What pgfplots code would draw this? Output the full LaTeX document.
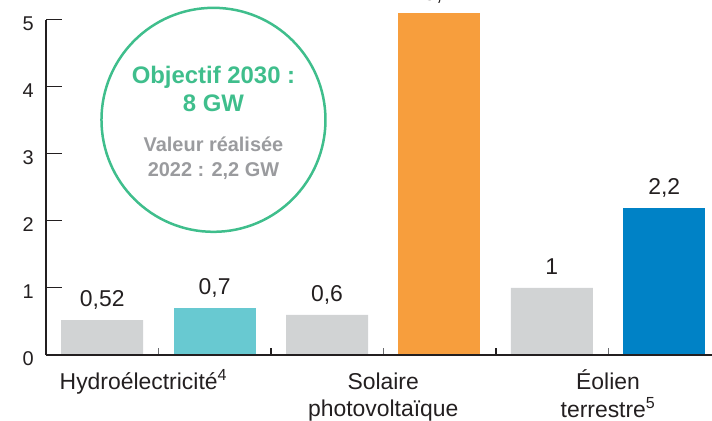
\documentclass[border=0pt]{standalone}
\usepackage{pgfplots}
\pgfplotsset{compat=1.18}
\usepackage{fontspec}
\setmainfont{Liberation Sans}
\definecolor{bargray}{HTML}{D1D3D4}
\definecolor{barteal}{HTML}{68C9D1}
\definecolor{barorange}{HTML}{F79E3D}
\definecolor{barblue}{HTML}{0082C6}
\definecolor{circgreen}{HTML}{3FBE8C}
\definecolor{circgray}{HTML}{9A9B9E}
\definecolor{txt}{HTML}{231F20}
\definecolor{tickgray}{HTML}{6D6E71}
\begin{document}
\begin{tikzpicture}
\path[use as bounding box] (0,0) rectangle (712bp,421bp);
\clip (0,0) rectangle (712bp,421bp);
\begin{axis}[
  at={(46bp,66bp)}, anchor=south west,
  x=112.4bp, y=67bp,
  xmin=-0.5, xmax=5.425, ymin=0, ymax=5,
  axis x line=bottom, axis y line=left,
  axis line style={-},
  x axis line style={draw=txt, line width=1.5bp},
  y axis line style={draw=txt, line width=1.2bp},
  clip=false,
  tick align=inside,
  major tick length=16bp,
  minor tick length=7bp,
  ytick={0,1,2,3,4,5},
  ytick style={line width=1bp, draw=txt},
  xtick={0.5,2.5,4.5},
  major x tick style={draw=none},
  minor xtick={0.5,2.5,4.5},
  minor x tick style={line width=1bp, draw=tickgray},
  xticklabels={{\begin{tabular}[t]{@{}c@{}}\hspace*{-30bp}Hydroélectricité\textsuperscript{4}\end{tabular}},{\begin{tabular}[t]{@{}c@{}}Solaire\\photovoltaïque\end{tabular}},{\begin{tabular}[t]{@{}c@{}}Éolien\\terrestre\textsuperscript{5}\end{tabular}}},
  /pgf/number format/assume math mode=true,
  yticklabel style={font=\fontsize{20}{24}\selectfont, color=txt, inner sep=0pt, xshift=-12bp, yshift=-4bp},
  xticklabel style={font=\fontsize{23}{27}\selectfont, text height=16.5bp, inner sep=0pt, yshift=-18bp, color=txt},
  nodes near coords, point meta=explicit symbolic,
  every node near coord/.append style={font=\fontsize{23}{27}\selectfont, color=txt, anchor=south, inner sep=0pt, text depth=0pt, yshift=13bp},
]
\addplot[ybar, bar width=82bp, bar shift=0pt, fill=bargray, draw=none] coordinates {(0,0.52) [{0,52}] (2,0.6) [{0,6}] (4,1) [1]};
\addplot[ybar, bar width=82bp, bar shift=0pt, fill=barteal, draw=none] coordinates {(1,0.7) [{0,7}]};
\addplot[ybar, bar width=82bp, bar shift=0pt, fill=barorange, draw=none] coordinates {(3,5.1) [{5,1}]};
\addplot[ybar, bar width=82bp, bar shift=0pt, fill=barblue, draw=none] coordinates {(5,2.2) [{2,2}]};
\draw[circgreen, line width=2.5bp] (axis cs:0.99,3.51) circle[radius=112bp];
\node[circgreen, font=\bfseries\fontsize{24}{28}\selectfont, align=center] at (axis cs:0.99,3.97) {Objectif 2030 :\\8 GW};
\node[circgray, font=\bfseries\fontsize{20}{25}\selectfont, align=center] at (axis cs:0.99,2.933) {Valeur réalisée\\2022 : 2,2 GW};
\end{axis}
\begin{axis}[
  at={(46bp,66bp)}, anchor=south west,
  x=112.4bp, y=67bp,
  xmin=-0.5, xmax=5.425, ymin=0, ymax=5,
  axis x line=bottom, axis y line=none,
  axis line style={-},
  x axis line style={draw=txt, line width=1.5bp},
  clip=false,
  tick align=inside,
  major tick length=7bp,
  xtick={1.5,3.5},
  xticklabels={},
  xtick style={line width=2bp, draw=txt},
]
\end{axis}
\end{tikzpicture}
\end{document}
